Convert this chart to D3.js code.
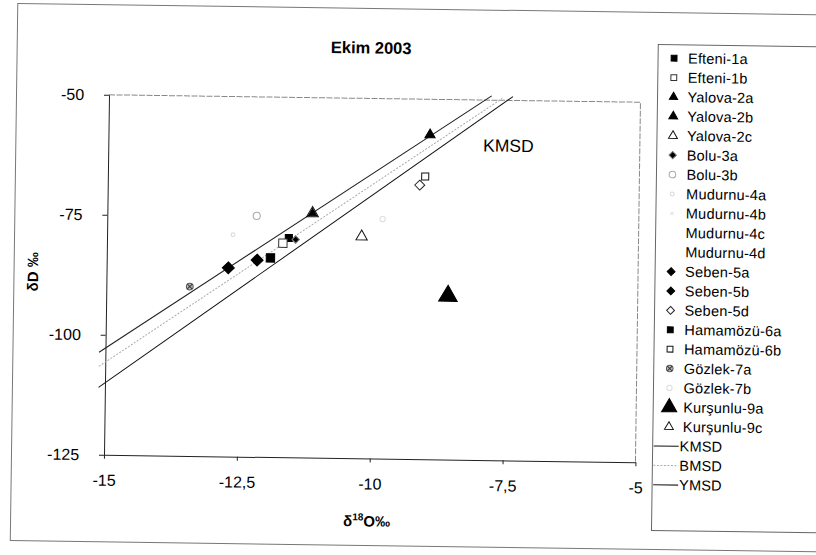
<!DOCTYPE html>
<html><head><meta charset="utf-8">
<script src="https://cdn.jsdelivr.net/npm/d3@7/dist/d3.min.js"></script>
<style>
body{margin:0;background:#fff}
svg{display:block}
text{font-family:"Liberation Sans",Arial,Helvetica,sans-serif;fill:#000}
</style>
</head><body>
<svg id="chart" width="816" height="555"></svg>
<script>
// Axis ticks
const xTicks = [-15, -12.5, -10, -7.5, -5];
const xTickLabels = ["-15", "-12,5", "-10", "-7,5", "-5"];
const yTicks = [-50, -75, -100, -125];
const yTickLabels = ["-50", "-75", "-100", "-125"];

// Sample series (δ18O, δD)
const seriesNames = ["Efteni-1a","Efteni-1b","Yalova-2a","Yalova-2b","Yalova-2c","Bolu-3a","Bolu-3b",
  "Mudurnu-4a","Mudurnu-4b","Mudurnu-4c","Mudurnu-4d","Seben-5a","Seben-5b","Seben-5d",
  "Hamamözü-6a","Hamamözü-6b","Gözlek-7a","Gözlek-7b","Kurşunlu-9a","Kurşunlu-9c"];
const seriesO18 = [[-11.58],[-11.69],[-11.14],[-8.95],[-11.14],[-11.45],[-12.19],
  [-12.63],[],[],[],[-12.71],[-12.17],[-9.13],
  [-11.92],[-9.03],[-13.43],[-9.82],[-8.57],[-10.21]];
const seriesDD = [[-79.3],[-80.4],[-74.1],[-57.4],[-74.1],[-79.6],[-74.8],
  [-78.8],[],[],[],[-85.7],[-84.0],[-67.9],
  [-83.5],[-66.1],[-89.7],[-75.1],[-90.9],[-78.8]];

// Meteoric water lines: δD = slope·δ18O + intercept
const lineNames = ["KMSD", "BMSD", "YMSD"];
const lineSlopes = [8, 7.58, 7.45];
const lineIntercepts = [10, 8.0, 9.0];
const lineXStart = [-15.12, -15.12, -15.12];
const lineXEnd = [-7.4, -7.6, -7.8];

// custom diamond: a square turned by 45°
const symbolRhomb = {
  draw(ctx, size) {
    const r = Math.sqrt(size / 2) * 0.95;
    ctx.moveTo(0, -r); ctx.lineTo(r, 0); ctx.lineTo(0, r); ctx.lineTo(-r, 0); ctx.closePath();
  }
};

// Marker look for each series
const markerStyle = {
  "Efteni-1a":   {type: d3.symbolSquare,   size: 50,  fill: "#000", stroke: "#000"},
  "Efteni-1b":   {type: d3.symbolSquare,   size: 70,  fill: "#fff", stroke: "#333"},
  "Yalova-2a":   {type: d3.symbolTriangle, size: 30,  fill: "#000", stroke: "#000"},
  "Yalova-2b":   {type: d3.symbolTriangle, size: 45,  fill: "#000", stroke: "#000"},
  "Yalova-2c":   {type: d3.symbolTriangle, size: 60,  fill: "none", stroke: "#111"},
  "Bolu-3a":     {type: symbolRhomb,       size: 30,  fill: "#000", stroke: "#777"},
  "Bolu-3b":     {type: d3.symbolCircle,   size: 40,  fill: "#fff", stroke: "#aaa"},
  "Mudurnu-4a":  {type: d3.symbolCircle,   size: 12,  fill: "none", stroke: "#d8d8d8"},
  "Mudurnu-4b":  {type: d3.symbolTimes,    size: 8,   fill: "none", stroke: "#e0e0e0"},
  "Mudurnu-4c":  null,
  "Mudurnu-4d":  null,
  "Seben-5a":    {type: symbolRhomb,       size: 80,  fill: "#000", stroke: "#000"},
  "Seben-5b":    {type: symbolRhomb,       size: 80,  fill: "#000", stroke: "#000"},
  "Seben-5d":    {type: symbolRhomb,       size: 55,  fill: "#fff", stroke: "#222"},
  "Hamamözü-6a": {type: d3.symbolSquare,   size: 70,  fill: "#000", stroke: "#000"},
  "Hamamözü-6b": {type: d3.symbolSquare,   size: 50,  fill: "#fff", stroke: "#111"},
  "Gözlek-7a":   {type: d3.symbolCircle,   size: 36,  fill: "#bbb", stroke: "#555", cross: true},
  "Gözlek-7b":   {type: d3.symbolCircle,   size: 22,  fill: "none", stroke: "#ddd"},
  "Kurşunlu-9a": {type: d3.symbolTriangle, size: 150, fill: "#000", stroke: "#000"},
  "Kurşunlu-9c": {type: d3.symbolTriangle, size: 55,  fill: "#fff", stroke: "#111"}
};
const lineStyle = {
  "KMSD": {stroke: "#111", width: 1,   dash: null},
  "BMSD": {stroke: "#aaa", width: 1,   dash: "2,1.5"},
  "YMSD": {stroke: "#222", width: 1.1, dash: null}
};

const svg = d3.select("#chart");
// slight skew of the whole sheet
const root = svg.append("g").attr("transform", "rotate(0.8 408 277)");

// outer chart frame
root.append("rect").attr("x", 14).attr("y", 9).attr("width", 900).attr("height", 537)
  .attr("fill", "none").attr("stroke", "#777").attr("stroke-width", 1);

const plot = {left: 106.5, right: 638, top: 99, bottom: 459};
const x = d3.scaleLinear().domain([-15, -5]).range([plot.left, plot.right]);
const y = d3.scaleLinear().domain([-125, -50]).range([plot.bottom, plot.top]);

// plot-area border (top and right)
root.append("path")
  .attr("d", `M${plot.left},${plot.top}H${plot.right}V${plot.bottom}`)
  .attr("fill", "none").attr("stroke", "#888").attr("stroke-width", 1)
  .attr("stroke-dasharray", "6,1.5");

// title
root.append("text").attr("x", 368).attr("y", 54).attr("text-anchor", "middle")
  .attr("font-size", 16.5).attr("font-weight", "bold").text("Ekim 2003");

// axes
const xAxis = d3.axisBottom(x).tickValues(xTicks)
  .tickFormat((d, i) => xTickLabels[i]).tickSize(4).tickSizeOuter(0);
const yAxis = d3.axisLeft(y).tickValues(yTicks)
  .tickFormat((d, i) => yTickLabels[i]).tickSize(5).tickSizeOuter(0);

const gx = root.append("g").attr("transform", `translate(0,${plot.bottom})`).call(xAxis);
gx.selectAll("text").attr("font-size", 16).attr("dy", "1.5em");
const gy = root.append("g").attr("transform", `translate(${plot.left},0)`).call(yAxis);
gy.selectAll("text").attr("font-size", 16).attr("dx", "-1.05em");
root.selectAll(".domain").attr("stroke", "#222");
root.selectAll(".tick line").attr("stroke", "#222");
root.selectAll(".tick text").attr("font-family", "Liberation Sans, Arial, sans-serif").attr("fill", "#000");

// axis titles
root.append("text")
  .attr("transform", "translate(38,277) rotate(-90)")
  .attr("text-anchor", "middle").attr("font-size", 15).attr("font-weight", "bold")
  .text("δD ‰");

const xTitle = root.append("text").attr("x", 370).attr("y", 527)
  .attr("text-anchor", "middle").attr("font-size", 15).attr("font-weight", "bold");
xTitle.append("tspan").text("δ");
xTitle.append("tspan").attr("font-size", 10).attr("dy", -6).text("18");
xTitle.append("tspan").attr("dy", 6).text("O‰");

// meteoric water lines
const lineGen = d3.line().x(d => x(d[0])).y(d => y(d[1]));
lineNames.forEach((name, i) => {
  const pts = [lineXStart[i], lineXEnd[i]].map(v => [v, lineSlopes[i] * v + lineIntercepts[i]]);
  const st = lineStyle[name];
  root.append("path").attr("d", lineGen(pts)).attr("fill", "none")
    .attr("stroke", st.stroke).attr("stroke-width", st.width)
    .attr("stroke-dasharray", st.dash);
});

root.append("text").attr("x", x(-7.95)).attr("y", y(-60.7))
  .attr("font-size", 17.5).text("KMSD");

// markers
function drawMarker(g, st, cx, cy) {
  if (!st) return;
  g.append("path").attr("d", d3.symbol().type(st.type).size(st.size)())
    .attr("transform", `translate(${cx},${cy})`)
    .attr("fill", st.fill).attr("stroke", st.stroke).attr("stroke-width", 1);
  if (st.cross) {
    g.append("path").attr("d", d3.symbol().type(d3.symbolTimes).size(st.size * 0.5)())
      .attr("transform", `translate(${cx},${cy})`)
      .attr("fill", "none").attr("stroke", "#333").attr("stroke-width", 1);
  }
}
const pointLayer = root.append("g");
seriesNames.forEach((name, i) => {
  seriesO18[i].forEach((v, j) => drawMarker(pointLayer, markerStyle[name], x(v), y(seriesDD[i][j])));
});

// legend
const leg = root.append("g");
leg.append("rect").attr("x", 655).attr("y", 41).attr("width", 300).attr("height", 486)
  .attr("fill", "#fff").attr("stroke", "#666").attr("stroke-width", 1);
const rowY0 = 54.5, rowStep = 19.4;
seriesNames.forEach((name, i) => {
  const cy = rowY0 + i * rowStep;
  const st = markerStyle[name];
  const legSize = name === "Kurşunlu-9a" ? 100 : Math.min(st ? st.size : 0, 34);
  if (st) drawMarker(leg, Object.assign({}, st, {size: legSize}), 671, cy);
  leg.append("text").attr("x", 685).attr("y", cy + 5).attr("font-size", 14.5)
    .attr("letter-spacing", 0.2).text(name);
});
lineNames.forEach((name, i) => {
  const cy = rowY0 + (seriesNames.length + i) * rowStep;
  const st = lineStyle[name];
  leg.append("line").attr("x1", 656).attr("x2", 681).attr("y1", cy).attr("y2", cy)
    .attr("stroke", st.stroke).attr("stroke-width", st.width).attr("stroke-dasharray", st.dash);
  leg.append("text").attr("x", 682).attr("y", cy + 5).attr("font-size", 14.5)
    .attr("letter-spacing", 0.2).text(name);
});
</script>
</body></html>
